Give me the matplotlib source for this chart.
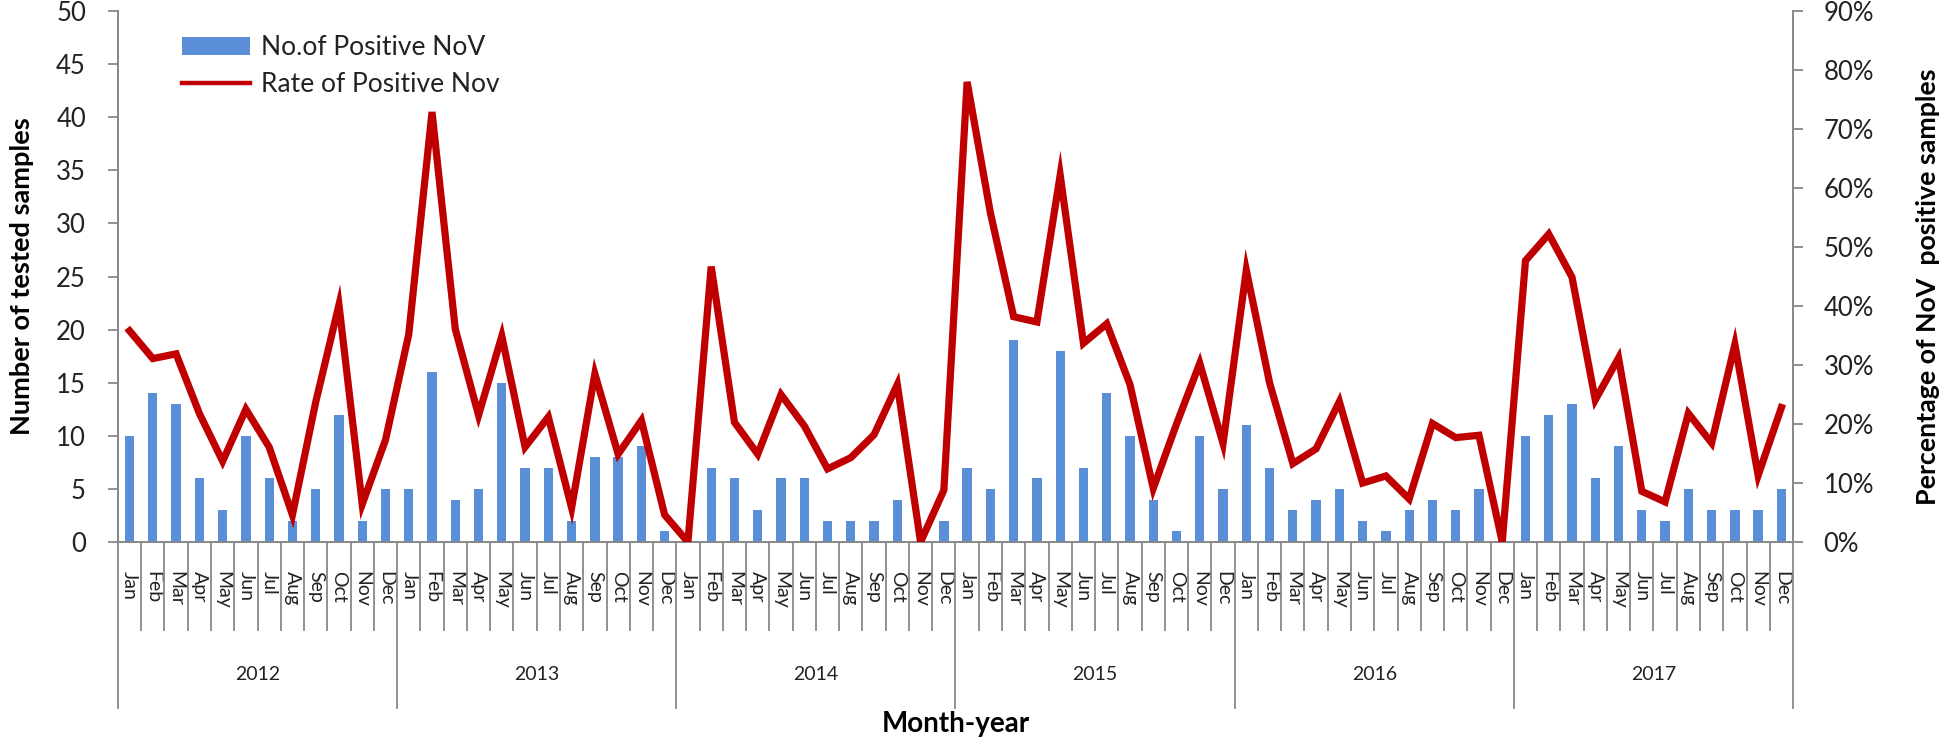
import numpy as np
import matplotlib
matplotlib.use("Agg")
import matplotlib.pyplot as plt
import matplotlib.transforms as mtransforms
from matplotlib.lines import Line2D
from matplotlib.patches import Patch
from matplotlib.ticker import PercentFormatter

plt.rcParams['font.family'] = ['Lato', 'DejaVu Sans']

# Data (2012-2017, monthly)
years = ["2012", "2013", "2014", "2015", "2016", "2017"]
months = ["Jan", "Feb", "Mar", "Apr", "May", "Jun",
          "Jul", "Aug", "Sep", "Oct", "Nov", "Dec"]

positive_nov = [
    10, 14, 13, 6, 3, 10, 6, 2, 5, 12, 2, 5,     # 2012
    5, 16, 4, 5, 15, 7, 7, 2, 8, 8, 9, 1,        # 2013
    0, 7, 6, 3, 6, 6, 2, 2, 2, 4, 0, 2,          # 2014
    7, 5, 19, 6, 18, 7, 14, 10, 4, 1, 10, 5,     # 2015
    11, 7, 3, 4, 5, 2, 1, 3, 4, 3, 5, 0,         # 2016
    10, 12, 13, 6, 9, 3, 2, 5, 3, 3, 3, 5,       # 2017
]

rate_positive = [
    35.8, 31.1, 31.9, 21.8, 13.7, 22.5, 16.1, 4.6, 23.7, 40.2, 6.4, 17.3,
    35.2, 72.9, 36.1, 21.5, 34.9, 16.1, 21.2, 5.8, 28.5, 14.9, 20.6, 4.6,
    0.0, 46.7, 20.3, 14.9, 25.0, 19.7, 12.4, 14.3, 18.2, 26.7, 0.0, 8.8,
    78.0, 55.8, 38.2, 37.3, 62.2, 33.7, 37.0, 26.7, 9.1, 20.0, 30.3, 16.7,
    46.1, 27.0, 13.3, 15.8, 23.8, 10.0, 11.2, 7.3, 20.1, 17.7, 18.1, 0.0,
    47.7, 52.2, 44.9, 24.1, 31.2, 8.6, 6.8, 21.8, 16.8, 33.5, 11.3, 22.8,
]

n = len(positive_nov)
x = np.arange(n)
month_labels = months * len(years)

bar_color = "#5A8FD7"
line_color = "#C00000"
axis_color = "#888888"
text_color = "#222222"

fig = plt.figure(figsize=(19.46, 7.42), dpi=100)
ax = fig.add_axes([0.0606, 0.2695, 0.8608, 0.7155])
ax2 = ax.twinx()

ax.bar(x, positive_nov, width=0.4, color=bar_color, zorder=2)
ax2.plot(x, rate_positive, color=line_color, lw=5.2, solid_joinstyle="miter", zorder=3)

ax.set_xlim(-0.5, n - 0.5)
ax.set_ylim(0, 50)
ax.set_yticks(np.arange(0, 51, 5))
ax2.set_ylim(0, 90)
ax2.set_yticks(np.arange(0, 91, 10))
ax2.yaxis.set_major_formatter(PercentFormatter(decimals=0))

for a in (ax, ax2):
    a.spines["top"].set_visible(False)
    for s in ("left", "right", "bottom"):
        a.spines[s].set_color(axis_color)
        a.spines[s].set_linewidth(1.3)
ax.tick_params(axis="y", direction="out", length=7, width=1.3, color=axis_color,
               labelsize=18.5, pad=16, labelcolor=text_color)
ax2.tick_params(axis="y", direction="out", length=7, width=1.3, color=axis_color,
                labelsize=18.5, pad=15, labelcolor=text_color)

# month labels under the axis
ax.set_xticks(x)
ax.set_xticklabels(month_labels, rotation=270, fontsize=14, color=text_color)
ax.tick_params(axis="x", length=0, pad=21)

# month and year separators below the axis
trans = mtransforms.blended_transform_factory(ax.transData, ax.transAxes)
for i in range(n + 1):
    y_end = -0.313 if i % 12 == 0 else -0.166
    ax.plot([i - 0.5, i - 0.5], [0, y_end], transform=trans, color=axis_color,
            lw=1.3, clip_on=False)
for k, yr in enumerate(years):
    ax.text(12 * k + 5.5, -0.25, yr, transform=trans, ha="center", va="center",
            fontsize=14, color=text_color)

ax.set_ylabel("Number of tested samples", fontsize=19.5, fontweight="bold")
ax.yaxis.set_label_coords(-0.050, 0.5)
ax2.set_ylabel("Percentage of NoV  positive samples", fontsize=19.3, fontweight="bold",
               rotation=90)
ax2.yaxis.set_label_coords(1.0735, 0.48)
ax.text(0.5, -0.343, "Month-year", transform=ax.transAxes, ha="center", va="center",
        fontsize=20, fontweight="bold")

handles = [Patch(facecolor=bar_color, edgecolor="none"),
           Line2D([], [], color=line_color, lw=3.2)]
labels = ["No.of Positive NoV", "Rate of Positive Nov"]
ax2.legend(handles, labels, loc="upper left", bbox_to_anchor=(0.038, 0.955),
           frameon=False, fontsize=19, handlelength=2.6, handleheight=0.65,
           handletextpad=0.4, labelspacing=0.45, borderpad=0, borderaxespad=0,
           labelcolor=text_color)

ax.set_zorder(1)
ax2.set_zorder(2)

fig.savefig("out.png", dpi=100)
